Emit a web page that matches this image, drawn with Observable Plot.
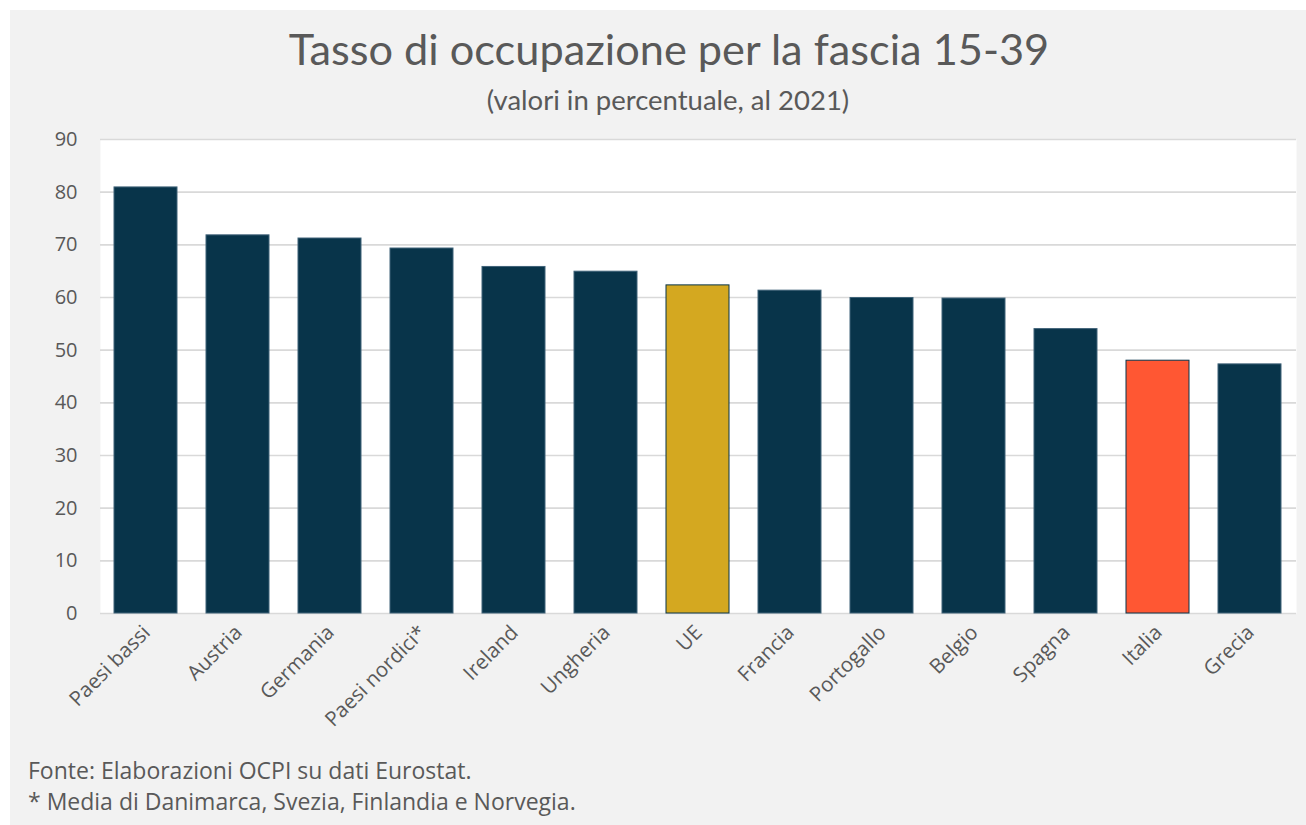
<!DOCTYPE html>
<html><head><meta charset="utf-8">
<script src="https://cdn.jsdelivr.net/npm/d3@7"></script>
<script src="https://cdn.jsdelivr.net/npm/@observablehq/plot@0.6"></script>
<style>
body{margin:0;background:#fff;width:1306px;height:825px;overflow:hidden;position:relative}
#panel{position:absolute;left:10px;top:10px;width:1296px;height:815px;background:#f2f2f2}
.t{position:absolute;white-space:nowrap;line-height:1;color:#595959}
#title{font-family:Lato,sans-serif;font-size:43.3px;left:669px;top:27px;transform:translateX(-50%)}
#subtitle{font-family:Lato,sans-serif;font-size:27.5px;left:668px;top:86px;transform:translateX(-50%)}
.foot{font-family:"Open Sans",sans-serif;font-size:23px;left:28px}
#chart{position:absolute;left:0;top:0}
</style></head><body>
<div id="panel"></div>
<div id="chart"></div>
<div class="t" id="title">Tasso di occupazione per la fascia 15-39</div>
<div class="t" id="subtitle">(valori in percentuale, al 2021)</div>
<div class="t foot" style="top:759px">Fonte: Elaborazioni OCPI su dati Eurostat.</div>
<div class="t foot" style="top:790px">* Media di Danimarca, Svezia, Finlandia e Norvegia.</div>
<script>
const countries = ["Paesi bassi","Austria","Germania","Paesi nordici*","Ireland","Ungheria","UE","Francia","Portogallo","Belgio","Spagna","Italia","Grecia"];
const values = [80.9, 71.8, 71.2, 69.3, 65.8, 64.9, 62.3, 61.3, 59.9, 59.8, 54.0, 48.0, 47.3];
const yTicks = [0,10,20,30,40,50,60,70,80,90];

const navy = "#08344a";
const highlightFill = {"UE": "#d4a820", "Italia": "#ff5733"};
const data = countries.map((c, i) => ({country: c, value: values[i]}));

const chart = Plot.plot({
  width: 1306, height: 760,
  marginLeft: 100, marginRight: 10, marginTop: 139, marginBottom: 147,
  x: {domain: countries, paddingInner: 0.315, paddingOuter: 0.1575, axis: null},
  y: {domain: [0, 90], axis: null, label: null},
  color: {type: "identity"},
  style: {background: "transparent", fontFamily: "'Open Sans', sans-serif", color: "#595959"},
  marks: [
    Plot.frame({fill: "white", stroke: null}),
    Plot.ruleY(yTicks, {stroke: "#d9d9d9", strokeWidth: 1.6}),
    Plot.axisY(yTicks, {tickSize: 0, tickPadding: 23, fontSize: 20, fill: "#595959", label: null}),
    Plot.barY(data, {
      x: "country", y: "value",
      fill: d => highlightFill[d.country] || navy,
      stroke: d => highlightFill[d.country] ? navy : "#3f6278",
      strokeWidth: 1
    }),
    Plot.text(countries, {
      x: d => d, frameAnchor: "bottom", text: d => d,
      rotate: -45, textAnchor: "end", lineAnchor: "top",
      dx: -5, dy: 10, fontSize: 20.5, fill: "#595959"
    })
  ]
});
document.getElementById("chart").appendChild(chart);
</script>
</body></html>
